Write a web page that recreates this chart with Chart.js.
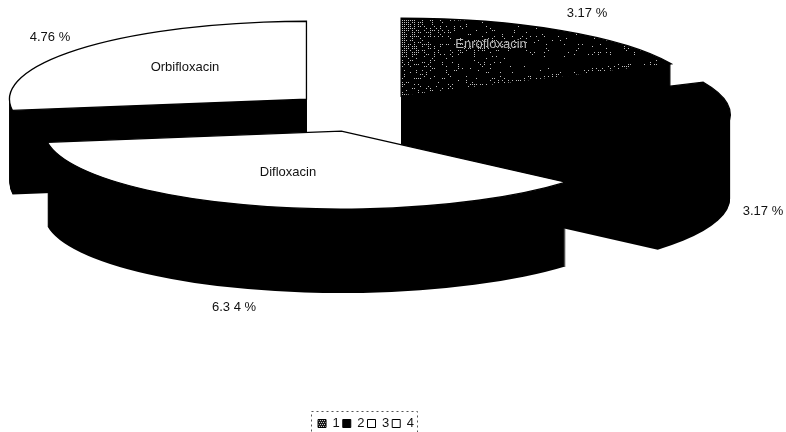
<!DOCTYPE html>
<html>
<head>
<meta charset="utf-8">
<style>html,body{margin:0;padding:0;background:#fff}#wrap{width:786px;height:432px}</style>
<script src="https://cdn.jsdelivr.net/npm/chart.js@4"></script>
</head>
<body>
<div id="wrap"><canvas id="c" width="786" height="432"></canvas></div>
<script>
// Fluoroquinolone shares, in slice order
const legendKeys = ['1', '2', '3', '4'];
const drugNames = ['Enrofloxacin', '', 'Difloxacin', 'Orbifloxacin'];
const shares = [3.17, 3.17, 6.34, 4.76];
const shareLabels = ['3.17 %', '3.17 %', '6.3 4 %', '4.76 %'];

// Tilted-pie geometry
const pieCentre = {x: 362.6, y: 112};
const radiusX = 297, radiusY = 78, wallDepth = 84;
const explode = [0.24, 0.24, 0.255, 0.25];
const paintOrder = [3, 0, 1, 2];
const shareLabelAt = [[587, 13], [763, 211], [234, 307], [50, 37]];
const nameLabelAt = [[491, 44], null, [288, 172], [185, 67]];

// Small dither used for the legend swatch
function swatchTile() {
  const t = document.createElement('canvas');
  t.width = 4; t.height = 4;
  const g = t.getContext('2d');
  g.fillStyle = '#1c1c1c';
  g.fillRect(0, 0, 4, 4);
  g.fillStyle = '#c9c9c9';
  [[0,0],[2,0],[1,2],[3,2]].forEach(p => g.fillRect(p[0], p[1], 1, 1));
  return t;
}

// Page-aligned speckle for the first slice: sparse on the right, dense at the left edge
function speckleSheet() {
  const t = document.createElement('canvas');
  t.width = 786; t.height = 432;
  const g = t.getContext('2d');
  g.fillStyle = '#000';
  g.fillRect(0, 0, 786, 432);
  g.fillStyle = '#bdbdbd';
  for (let y = 0; y < 110; y += 2) {
    for (let x = 400; x < 680; x += 2) {
      const h = Math.abs(Math.sin(x * 12.9898 + y * 78.233) * 43758.5453) % 1;
      const dx = x - 401;
      let p = 0.03 + 0.5 * Math.exp(-dx / 22) + 0.08 * Math.exp(-dx / 140);
      p *= y < 55 ? 1.4 : 0.6;
      if (x > 450 && x < 532 && y > 37 && y < 51) p += 0.1;
      const edgeY = 96 - (x - 401) * 0.126;
      if (y > edgeY - 4) p += 0.3;
      if (h < p) g.fillRect(x, y, 1, 1);
    }
  }
  return t;
}
const drawCtx = document.getElementById('c').getContext('2d');
const speckle = drawCtx.createPattern(speckleSheet(), 'repeat');
const swatch = drawCtx.createPattern(swatchTile(), 'repeat');

const sliceFills = [speckle, '#000000', '#ffffff', '#ffffff'];

// Pie controller that lays each arc on a tilted plane and extrudes it downward
class TiltedPieController extends Chart.PieController {
  draw() {
    const ctx = this.chart.ctx;
    const arcs = this.getMeta().data;
    paintOrder.forEach(i => {
      const arc = arcs[i];
      const mid = (arc.startAngle + arc.endAngle) / 2;
      const cx = pieCentre.x + explode[i] * radiusX * Math.cos(mid);
      const cy = pieCentre.y + explode[i] * radiusY * Math.sin(mid);

      const outline = y => {
        ctx.beginPath();
        ctx.moveTo(cx, y);
        ctx.ellipse(cx, y, radiusX, radiusY, 0, arc.startAngle, arc.endAngle);
        ctx.closePath();
      };

      ctx.save();
      ctx.fillStyle = '#000';
      for (let d = wallDepth; d > 0; d--) { outline(cy + d); ctx.fill(); }
      ctx.restore();

      // The face itself is painted by the arc element
      const sx = radiusX / arc.outerRadius, sy = radiusY / arc.outerRadius;
      ctx.save();
      ctx.translate(cx, cy);
      ctx.scale(sx, sy);
      ctx.translate(-arc.x, -arc.y);
      if (i === 0) speckle.setTransform(ctx.getTransform().inverse());
      arc.draw(ctx);
      ctx.restore();

      ctx.save();
      ctx.strokeStyle = '#000';
      ctx.lineWidth = 1.3;
      outline(cy);
      ctx.stroke();
      ctx.restore();
    });
  }
}
TiltedPieController.id = 'tiltedPie';
TiltedPieController.defaults = Chart.PieController.defaults;
TiltedPieController.overrides = Chart.PieController.overrides;
Chart.register(TiltedPieController);

// Slice captions and the dashed frame around the legend
const annotations = {
  id: 'annotations',
  afterDraw(chart) {
    const ctx = chart.ctx;
    ctx.save();
    ctx.font = '13px "Liberation Sans"';
    ctx.textAlign = 'center';
    ctx.textBaseline = 'middle';
    ctx.fillStyle = '#111';
    shareLabels.forEach((t, i) => ctx.fillText(t, shareLabelAt[i][0], shareLabelAt[i][1]));
    drugNames.forEach((t, i) => {
      if (!t) return;
      ctx.fillStyle = i === 0 ? '#b8b8b8' : '#111';
      ctx.fillText(t, nameLabelAt[i][0], nameLabelAt[i][1]);
    });
    const boxes = chart.legend.legendHitBoxes;
    const first = boxes[0], last = boxes[boxes.length - 1];
    const left = Math.round(first.left) - 6.5, right = Math.round(last.left + last.width) + 3.5;
    ctx.strokeStyle = '#555';
    ctx.lineWidth = 1;
    ctx.setLineDash([2, 3]);
    ctx.strokeRect(left, 411.5, right - left, 24);
    ctx.restore();
  }
};

new Chart(document.getElementById('c'), {
  type: 'tiltedPie',
  data: {
    labels: legendKeys,
    datasets: [{
      data: shares,
      backgroundColor: sliceFills,
      borderWidth: 0
    }]
  },
  options: {
    responsive: false,
    animation: false,
    layout: {padding: {right: 54, bottom: -8}},
    plugins: {
      tooltip: {enabled: false},
      legend: {
        position: 'bottom',
        labels: {
          font: {family: '"Liberation Sans"', size: 13},
          color: '#111',
          boxWidth: 8,
          boxHeight: 8,
          padding: 3,
          generateLabels(chart) {
            const items = Chart.PieController.overrides.plugins.legend.labels.generateLabels(chart);
            items.forEach((it, i) => {
              it.strokeStyle = '#000';
              it.lineWidth = 1;
              if (i === 0) it.fillStyle = swatch;
            });
            return items;
          }
        }
      }
    }
  },
  plugins: [annotations]
});
</script>
</body>
</html>
